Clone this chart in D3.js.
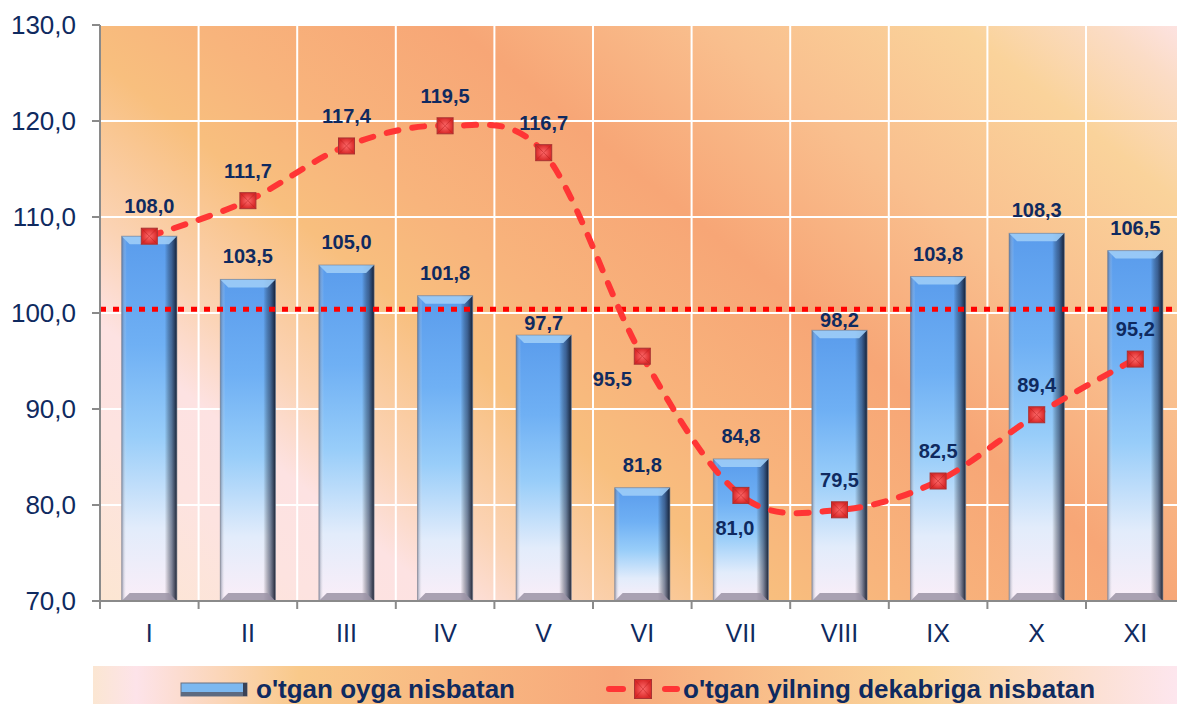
<!DOCTYPE html>
<html>
<head>
<meta charset="utf-8">
<script src="https://cdn.jsdelivr.net/npm/d3@7"></script>
<style>
  html, body { margin: 0; padding: 0; background: #fff; }
  svg { display: block; font-family: Arial, "Liberation Sans", sans-serif; }
</style>
</head>
<body>
<div id="chart"></div>
<script>
// months (roman numerals)
const months = ["I", "II", "III", "IV", "V", "VI", "VII", "VIII", "IX", "X", "XI"];
// o'tgan oyga nisbatan (bars)
const monthlyIndex = [108.0, 103.5, 105.0, 101.8, 97.7, 81.8, 84.8, 98.2, 103.8, 108.3, 106.5];
// o'tgan yilning dekabriga nisbatan (line)
const decemberIndex = [108.0, 111.7, 117.4, 119.5, 116.7, 95.5, 81.0, 79.5, 82.5, 89.4, 95.2];
const yTicks = [70, 80, 90, 100, 110, 120, 130];
const baseline = 100.4;
const seriesNames = ["o'tgan oyga nisbatan", "o'tgan yilning dekabriga nisbatan"];

const W = 1177, H = 704;
const navy = "#0f2a60";
const fmt = v => v.toFixed(1).replace(".", ",");

const svg = d3.select("#chart").append("svg")
    .attr("width", W)
    .attr("height", H);

const defs = svg.append("defs");

// scales
const x = d3.scaleBand().domain(months).range([100, 100 + 98.6 * months.length])
    .paddingInner(0.44).paddingOuter(0.22);
const xb = d3.scaleBand().domain(months).range(x.range());
const y = d3.scaleLinear().domain([70, 130]).range([601, 25]);
const [px0, px1] = x.range();

// plot background gradient (peach / salmon), runs from bottom-left to upper-right
const bgLen = 1133;
const bg = defs.append("linearGradient").attr("id", "bgGrad")
    .attr("gradientUnits", "userSpaceOnUse")
    .attr("x1", px0).attr("y1", y(70))
    .attr("x2", px0 + 0.63 * bgLen).attr("y2", y(70) - 0.78 * bgLen);
[[0, "#fce6d2"], [0.12, "#fde3e0"], [0.19, "#fde2e2"], [0.26, "#fbd3b4"], [0.37, "#f8bf7e"],
 [0.45, "#f8b47c"], [0.59, "#f7a676"], [0.73, "#f9bf8e"], [0.87, "#fad39b"],
 [0.95, "#fbdcc6"], [1, "#fde4e8"]]
    .forEach(s => bg.append("stop").attr("offset", s[0]).attr("stop-color", s[1]));

const legGrad = defs.append("linearGradient").attr("id", "legGrad");
[[0, "#fbe6d2"], [0.04, "#fde3e9"], [0.19, "#f9c98a"], [0.48, "#f7a87a"],
 [0.76, "#fad49a"], [1, "#fde6ee"]]
    .forEach(s => legGrad.append("stop").attr("offset", s[0]).attr("stop-color", s[1]));

// bar body: blue at top fading to lavender white
const barV = defs.append("linearGradient").attr("id", "barV")
    .attr("x1", 0).attr("y1", 0).attr("x2", 0).attr("y2", 1);
[[0, "#5a9cec"], [0.3, "#6fb0f4"], [0.55, "#98cdf9"], [0.8, "#e2ecfb"], [1, "#faeef8"]]
    .forEach(s => barV.append("stop").attr("offset", s[0]).attr("stop-color", s[1]));

const barH = defs.append("linearGradient").attr("id", "barH");
[[0, "#4a5570", 0.55], [0.09, "#ffffff", 0.0], [0.78, "#000000", 0.0],
 [0.9, "#1a2540", 0.5], [1, "#0d1425", 0.92]]
    .forEach(s => barH.append("stop").attr("offset", s[0])
        .attr("stop-color", s[1]).attr("stop-opacity", s[2]));

const markGrad = defs.append("radialGradient").attr("id", "markGrad");
markGrad.append("stop").attr("offset", 0).attr("stop-color", "#ff6b6b");
markGrad.append("stop").attr("offset", 1).attr("stop-color", "#d92a2a");

// plot background
const plot = svg.append("g");
plot.append("rect")
    .attr("x", px0).attr("y", y(130))
    .attr("width", px1 - px0).attr("height", y(70) - y(130))
    .attr("fill", "url(#bgGrad)");

// gridlines
plot.selectAll("line.hgrid").data(yTicks.slice(1))
    .join("line")
    .attr("x1", px0).attr("x2", px1)
    .attr("y1", d => y(d)).attr("y2", d => y(d))
    .attr("stroke", "#fff").attr("stroke-width", 2);
plot.selectAll("line.vgrid").data(months.slice(1))
    .join("line")
    .attr("x1", d => xb(d)).attr("x2", d => xb(d))
    .attr("y1", y(130)).attr("y2", y(70))
    .attr("stroke", "#fff").attr("stroke-width", 2);

// bars
const bars = svg.append("g").selectAll("g").data(monthlyIndex).join("g");
const bw = x.bandwidth();
const bev = 8;
bars.each(function (v, i) {
    const g = d3.select(this);
    const x0 = x(months[i]), x1 = x0 + bw;
    const top = y(v), bot = y(70);
    g.append("rect").attr("x", x0).attr("y", top).attr("width", bw).attr("height", bot - top)
        .attr("fill", "url(#barV)");
    g.append("rect").attr("x", x0).attr("y", top).attr("width", bw).attr("height", bot - top)
        .attr("fill", "url(#barH)");
    // top bevel
    g.append("path")
        .attr("d", `M${x0},${top}L${x1},${top}L${x1 - bev},${top + bev}L${x0 + bev},${top + bev}Z`)
        .attr("fill", "#9dcdf7").attr("opacity", 0.9);
    // bottom bevel
    g.append("path")
        .attr("d", `M${x0},${bot}L${x1},${bot}L${x1 - bev},${bot - bev}L${x0 + bev},${bot - bev}Z`)
        .attr("fill", "#9b93a6").attr("opacity", 0.85);
    g.append("rect").attr("x", x0).attr("y", top).attr("width", bw).attr("height", bot - top)
        .attr("fill", "none").attr("stroke", "#7a7f8c").attr("stroke-width", 1).attr("opacity", 0.6);
});

// 100 baseline, dotted
svg.append("line")
    .attr("x1", px0).attr("x2", W)
    .attr("y1", y(baseline)).attr("y2", y(baseline))
    .attr("stroke", "#ff0000").attr("stroke-width", 5)
    .attr("stroke-dasharray", "6 7");

// axes
const axisColor = "#8a8a8a";
const ax = svg.append("g");
ax.append("line").attr("x1", px0).attr("x2", px0).attr("y1", y(130)).attr("y2", y(70))
    .attr("stroke", axisColor).attr("stroke-width", 2);
ax.append("line").attr("x1", px0 - 8).attr("x2", W).attr("y1", y(70)).attr("y2", y(70))
    .attr("stroke", axisColor).attr("stroke-width", 2);
ax.selectAll("line.yt").data(yTicks).join("line")
    .attr("x1", px0 - 8).attr("x2", px0)
    .attr("y1", d => y(d)).attr("y2", d => y(d))
    .attr("stroke", axisColor).attr("stroke-width", 2);
ax.selectAll("line.xt").data(months).join("line")
    .attr("x1", d => xb(d)).attr("x2", d => xb(d))
    .attr("y1", y(70)).attr("y2", y(70) + 8)
    .attr("stroke", axisColor).attr("stroke-width", 2);
ax.selectAll("text.yl").data(yTicks).join("text")
    .attr("x", 76).attr("y", d => y(d) + 9)
    .attr("text-anchor", "end")
    .attr("font-size", 26).attr("fill", navy)
    .text(d => fmt(d));
ax.selectAll("text.xl").data(months).join("text")
    .attr("x", d => x(d) + bw / 2).attr("y", 642)
    .attr("text-anchor", "middle")
    .attr("font-size", 25).attr("fill", navy)
    .text(d => d);

// line series
const cx = (d, i) => x(months[i]) + bw / 2;
const line = d3.line().x(cx).y(d => y(d)).curve(d3.curveCardinal);
svg.append("path").datum(decemberIndex)
    .attr("d", line)
    .attr("fill", "none")
    .attr("stroke", "#ff3535").attr("stroke-width", 6)
    .attr("stroke-linecap", "round")
    .attr("stroke-dasharray", "12 14");

function marker(g, mx, my, w, h) {
    g.append("rect").attr("x", mx - w / 2).attr("y", my - h / 2)
        .attr("width", w).attr("height", h)
        .attr("fill", "url(#markGrad)").attr("stroke", "#a83434").attr("stroke-width", 1);
    g.append("path")
        .attr("d", `M${mx - w / 2},${my - h / 2}L${mx + w / 2},${my + h / 2}M${mx + w / 2},${my - h / 2}L${mx - w / 2},${my + h / 2}`)
        .attr("stroke", "#b82020").attr("stroke-width", 1).attr("opacity", 0.5);
}
const marks = svg.append("g");
decemberIndex.forEach((v, i) => marker(marks, cx(v, i), y(v), 16, 16));

// labels
const labels = svg.append("g")
    .attr("font-size", 20).attr("font-weight", "bold").attr("fill", navy)
    .attr("text-anchor", "middle");
// V and VIII bar labels were nudged down, just under the dotted 100 line
const barLabelGap = { "V": 12, "VIII": 10 };
monthlyIndex.forEach((v, i) => {
    if (v === decemberIndex[i]) return;
    const gap = barLabelGap[months[i]] || 23;
    labels.append("text").attr("x", cx(v, i)).attr("y", y(v) - gap + 7).text(fmt(v));
});
// line label offsets (position relative to marker)
const lineLabelPos = ["above", "above", "above", "above", "above", "leftBelow", "below",
    "above", "above", "above", "above"];
decemberIndex.forEach((v, i) => {
    let dx = 0, dy = -30;
    if (lineLabelPos[i] === "leftBelow") { dx = -30; dy = 23; }
    if (lineLabelPos[i] === "below") { dx = -6; dy = 33; }
    labels.append("text").attr("x", cx(v, i) + dx).attr("y", y(v) + dy + 7).text(fmt(v));
});

// legend
const leg = svg.append("g");
leg.append("rect").attr("x", 93).attr("y", 666).attr("width", W - 93).attr("height", H - 666)
    .attr("fill", "url(#legGrad)");
const lb = leg.append("g");
lb.append("rect").attr("x", 181).attr("y", 683).attr("width", 66).attr("height", 13)
    .attr("fill", "#7cb8f0").attr("stroke", "#6a7080").attr("stroke-width", 1);
lb.append("rect").attr("x", 181).attr("y", 692).attr("width", 66).attr("height", 4)
    .attr("fill", "#5d6a80");
lb.append("rect").attr("x", 243).attr("y", 683).attr("width", 4).attr("height", 13)
    .attr("fill", "#3a4256");
leg.append("text").attr("x", 256).attr("y", 698)
    .attr("font-size", 26).attr("font-weight", "bold").attr("fill", navy)
    .text(seriesNames[0]);
leg.append("line").attr("x1", 609).attr("x2", 623).attr("y1", 689).attr("y2", 689)
    .attr("stroke", "#ff3535").attr("stroke-width", 6).attr("stroke-linecap", "round");
leg.append("line").attr("x1", 665).attr("x2", 677).attr("y1", 689).attr("y2", 689)
    .attr("stroke", "#ff3535").attr("stroke-width", 6).attr("stroke-linecap", "round");
marker(leg, 643, 689, 17, 19);
leg.append("text").attr("x", 683).attr("y", 698)
    .attr("font-size", 26).attr("font-weight", "bold").attr("fill", navy)
    .text(seriesNames[1]);
</script>
</body>
</html>
